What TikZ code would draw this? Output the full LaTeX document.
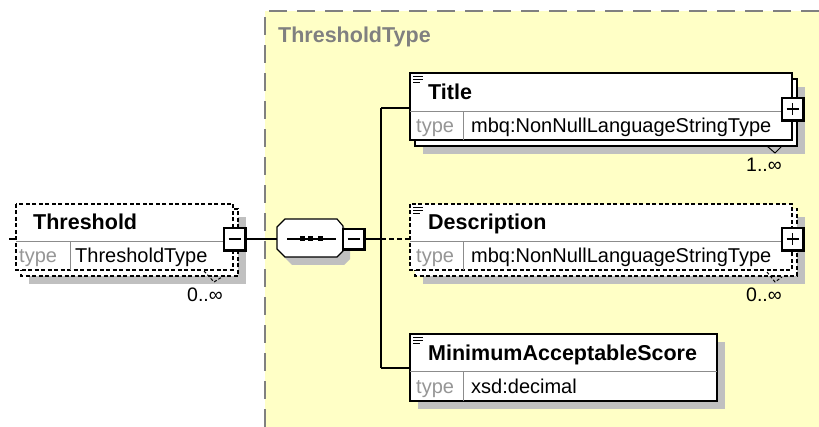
\documentclass[tikz,border=0pt]{standalone}
\usepackage{fontspec}
\setmainfont{Liberation Sans}
\definecolor{bgyellow}{RGB}{255,255,198}
\definecolor{shadowgray}{RGB}{192,192,192}
\definecolor{divgray}{RGB}{140,140,140}
\definecolor{typegray}{RGB}{150,150,150}
\definecolor{framegray}{RGB}{128,128,128}
\begin{document}
\begin{tikzpicture}[x=1pt,y=-1pt,
  conn/.style={line width=1.2pt,draw=black},
  optconn/.style={conn,dash pattern=on 5pt off 3pt},
  elbox/.style={draw=black,fill=white,line width=1.2pt},
  optbox/.style={elbox,dash pattern=on 4pt off 2.5pt},
  shadowbox/.style={fill=shadowgray,draw=none},
  divline/.style={draw=divgray,line width=1pt},
  iconline/.style={draw=black,line width=1pt},
  namelbl/.style={anchor=base west,inner sep=0pt,font=\fontsize{21.5pt}{21.5pt}\selectfont\bfseries,text=black},
  typelbl/.style={anchor=base west,inner sep=0pt,font=\fontsize{20pt}{20pt}\selectfont,text=typegray},
  vallbl/.style={anchor=base west,inner sep=0pt,font=\fontsize{20pt}{20pt}\selectfont,text=black},
  cardlbl/.style={anchor=base east,inner sep=0pt,font=\fontsize{19.5pt}{19.5pt}\selectfont,text=black},
  btn/.style={draw=black,fill=white,line width=1.2pt,minimum width=21pt,minimum height=22pt,inner sep=0pt},
  btnedge/.style={draw=black,line width=2.6pt},
  sign/.style={draw=black,line width=1.3pt},
]
\useasboundingbox (0,0) rectangle (819,427);
\fill[white] (0,0) rectangle (819,427);
% complex type area
\fill[bgyellow] (265,11) rectangle (819,427);
\draw[framegray,line width=1.4pt,dash pattern=on 18pt off 10pt] (265,427) -- (265,11) -- (819,11);
\node[anchor=base west,inner sep=0pt,font=\fontsize{21.5pt}{21.5pt}\selectfont\bfseries,text=framegray] (cttitle) at (278,43) {ThresholdType};

% ---------- Threshold element ----------
\fill[shadowbox] (29,217) rectangle (246,284);
\draw[optbox] (21,209) rectangle (238,276);
\draw[optbox] (16,204) rectangle (233,270);
\draw[divline] (16,242) -- (233,242);
\draw[divline] (70,242) -- (70,270);
\node[namelbl] (thrname) at (33,229.5) {Threshold};
\node[typelbl] (thrtype) at (19,263) {type};
\node[vallbl] (thrval) at (75,263) {ThresholdType};
\draw[dash pattern=on 3pt off 2pt,line width=1pt] (204,271) -- (214,282) -- (222,277);
\node[cardlbl] (thrcard) at (223,302) {0..∞};
\coordinate (thrtick) at (9,239);
\coordinate (thrL) at (16,239);
\draw[conn] (thrtick) -- (thrL);
\node[btn] (tbtn) at (234.5,239) {};
\draw[btnedge] (tbtn.north east) -- (tbtn.south east) -- (tbtn.south west);
\draw[sign] ([xshift=-6pt]tbtn.center) -- ([xshift=6pt]tbtn.center);

% ---------- sequence compositor ----------
\fill[shadowgray] (292,227) -- (344,227) -- (350,234) -- (350,259) -- (344,265) -- (292,265) -- (284,257) -- (284,235) -- cycle;
\draw[elbox] (285,219) -- (337,219) -- (343,226) -- (343,251) -- (337,257) -- (285,257) -- (277,249) -- (277,227) -- cycle;
\coordinate (seqW) at (277,239);
\draw[line width=1.2pt] (287,239) -- (336,239);
\fill[black] (299.5,236.5) rectangle (304.5,241.5);
\fill[black] (308,236.5) rectangle (313,241.5);
\fill[black] (317.5,236.5) rectangle (322.5,241.5);
\node[btn,minimum width=21pt,minimum height=20pt] (sbtn) at (353.5,239) {};
\draw[btnedge] (sbtn.north east) -- (sbtn.south east) -- (sbtn.south west);
\draw[sign] ([xshift=-6pt]sbtn.center) -- ([xshift=6pt]sbtn.center);
\draw[conn] (tbtn.east) -- (seqW);

% ---------- connectors to children ----------
\coordinate (vmid) at (381,239);
\coordinate (vtop) at (381,108);
\coordinate (vbot) at (381,368);
\coordinate (titleL) at (410,108);
\coordinate (descL) at (410,239);
\coordinate (masL) at (410,368);
\draw[conn] (sbtn.east) -- (vmid);
\draw[conn] (vtop) -- (vbot);
\draw[conn] (vtop) -- (titleL);
\draw[conn] (vbot) -- (masL);
\draw[optconn] (vmid) -- (descL);

% ---------- Title element ----------
\fill[shadowbox] (423,87) rectangle (805,154);
\draw[elbox] (415,79) rectangle (797,146);
\draw[elbox] (410,73) rectangle (792,140);
\draw[divline] (410,112) -- (792,112);
\draw[divline] (463,112) -- (463,140);
\draw[iconline] (413,77) -- (423,77);
\draw[iconline] (413,80) -- (423,80);
\draw[iconline] (413,83) -- (420,83);
\node[namelbl] (titlename) at (428,99.5) {Title};
\node[typelbl] (titletype) at (416,133) {type};
\node[vallbl] (titleval) at (471,133) {mbq:NonNullLanguageStringType};
\draw[line width=1pt] (767,146) -- (775,153) -- (782,146);
\node[cardlbl] (titlecard) at (782,172) {1..∞};
\node[btn] (pbtn1) at (792.5,109) {};
\draw[btnedge] (pbtn1.north east) -- (pbtn1.south east) -- (pbtn1.south west);
\draw[sign] ([xshift=-6pt]pbtn1.center) -- ([xshift=6pt]pbtn1.center);
\draw[sign] ([yshift=-6pt]pbtn1.center) -- ([yshift=6pt]pbtn1.center);

% ---------- Description element ----------
\fill[shadowbox] (423,217) rectangle (805,284);
\draw[optbox] (415,209) rectangle (797,276);
\draw[optbox] (410,204) rectangle (792,270);
\draw[divline] (410,242) -- (792,242);
\draw[divline] (463,242) -- (463,270);
\draw[iconline] (413,208) -- (423,208);
\draw[iconline] (413,211) -- (423,211);
\draw[iconline] (413,214) -- (420,214);
\coordinate (desctick) at (405,239);
\node[namelbl] (descname) at (428,230) {Description};
\node[typelbl] (desctype) at (416,263) {type};
\node[vallbl] (descval) at (471,263) {mbq:NonNullLanguageStringType};
\draw[dash pattern=on 3pt off 2pt,line width=1pt] (767,272) -- (775,282) -- (782,277);
\node[cardlbl] (desccard) at (782,302) {0..∞};
\node[btn] (pbtn2) at (792.5,239) {};
\draw[btnedge] (pbtn2.north east) -- (pbtn2.south east) -- (pbtn2.south west);
\draw[sign] ([xshift=-6pt]pbtn2.center) -- ([xshift=6pt]pbtn2.center);
\draw[sign] ([yshift=-6pt]pbtn2.center) -- ([yshift=6pt]pbtn2.center);

% ---------- MinimumAcceptableScore element ----------
\fill[shadowbox] (418,342) rectangle (725,409);
\draw[elbox] (410,334) rectangle (717,401);
\draw[divline] (410,372) -- (717,372);
\draw[divline] (463,372) -- (463,401);
\draw[iconline] (413,338) -- (423,338);
\draw[iconline] (413,341) -- (423,341);
\draw[iconline] (413,344) -- (420,344);
\node[namelbl] (masname) at (428,360) {MinimumAcceptableScore};
\node[typelbl] (mastype) at (416,393.5) {type};
\node[vallbl] (masval) at (471,393.5) {xsd:decimal};
\end{tikzpicture}
\end{document}
